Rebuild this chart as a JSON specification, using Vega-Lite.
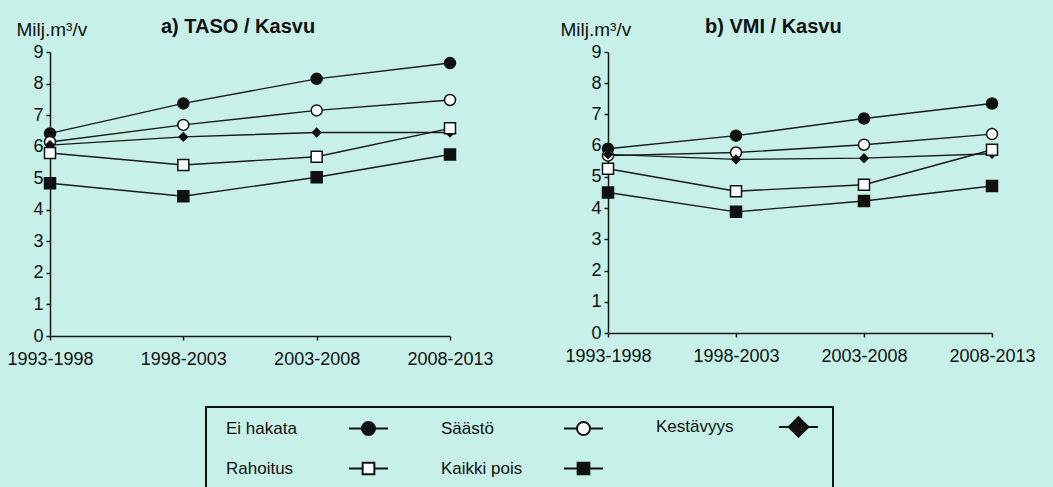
{
  "$schema": "https://vega.github.io/schema/vega-lite/v6.json",
  "background": "#c6f0e8",
  "padding": {"left": 6, "top": 17, "right": 20, "bottom": 2},
  "datasets": {
    "taso": [
      {"period": "1993-1998", "series": "Ei hakata", "value": 6.42},
      {"period": "1998-2003", "series": "Ei hakata", "value": 7.37},
      {"period": "2003-2008", "series": "Ei hakata", "value": 8.15},
      {"period": "2008-2013", "series": "Ei hakata", "value": 8.65},
      {"period": "1993-1998", "series": "Säästö", "value": 6.15},
      {"period": "1998-2003", "series": "Säästö", "value": 6.69},
      {"period": "2003-2008", "series": "Säästö", "value": 7.15},
      {"period": "2008-2013", "series": "Säästö", "value": 7.48},
      {"period": "1993-1998", "series": "Kestävyys", "value": 6.05},
      {"period": "1998-2003", "series": "Kestävyys", "value": 6.31},
      {"period": "2003-2008", "series": "Kestävyys", "value": 6.45},
      {"period": "2008-2013", "series": "Kestävyys", "value": 6.45},
      {"period": "1993-1998", "series": "Rahoitus", "value": 5.8},
      {"period": "1998-2003", "series": "Rahoitus", "value": 5.42},
      {"period": "2003-2008", "series": "Rahoitus", "value": 5.68},
      {"period": "2008-2013", "series": "Rahoitus", "value": 6.58},
      {"period": "1993-1998", "series": "Kaikki pois", "value": 4.84},
      {"period": "1998-2003", "series": "Kaikki pois", "value": 4.43},
      {"period": "2003-2008", "series": "Kaikki pois", "value": 5.03},
      {"period": "2008-2013", "series": "Kaikki pois", "value": 5.75}
    ],
    "vmi": [
      {"period": "1993-1998", "series": "Ei hakata", "value": 5.9},
      {"period": "1998-2003", "series": "Ei hakata", "value": 6.32},
      {"period": "2003-2008", "series": "Ei hakata", "value": 6.87},
      {"period": "2008-2013", "series": "Ei hakata", "value": 7.35},
      {"period": "1993-1998", "series": "Säästö", "value": 5.68},
      {"period": "1998-2003", "series": "Säästö", "value": 5.78},
      {"period": "2003-2008", "series": "Säästö", "value": 6.03},
      {"period": "2008-2013", "series": "Säästö", "value": 6.37},
      {"period": "1993-1998", "series": "Kestävyys", "value": 5.72},
      {"period": "1998-2003", "series": "Kestävyys", "value": 5.56},
      {"period": "2003-2008", "series": "Kestävyys", "value": 5.6},
      {"period": "2008-2013", "series": "Kestävyys", "value": 5.74},
      {"period": "1993-1998", "series": "Rahoitus", "value": 5.26},
      {"period": "1998-2003", "series": "Rahoitus", "value": 4.54},
      {"period": "2003-2008", "series": "Rahoitus", "value": 4.75},
      {"period": "2008-2013", "series": "Rahoitus", "value": 5.87},
      {"period": "1993-1998", "series": "Kaikki pois", "value": 4.5},
      {"period": "1998-2003", "series": "Kaikki pois", "value": 3.88},
      {"period": "2003-2008", "series": "Kaikki pois", "value": 4.23},
      {"period": "2008-2013", "series": "Kaikki pois", "value": 4.71}
    ]
  },
  "spacing": 66,
  "hconcat": [
    {
      "width": 400,
      "height": 284,
      "data": {"name": "taso"},
      "title": {"text": "a) TASO / Kasvu", "anchor": "start", "frame": "group", "dx": 111, "offset": -33, "baseline": "alphabetic", "fontSize": 20, "fontWeight": "bold", "font": "Liberation Sans", "color": "#111"},
      "encoding": {
        "x": {"field": "period", "type": "ordinal", "sort": ["1993-1998", "1998-2003", "2003-2008", "2008-2013"],
              "scale": {"type": "point", "padding": 0},
              "axis": {"title": null, "labelAngle": 0, "tickSize": 4, "labelPadding": 10, "encode": {"ticks": {"y": {"value": -4}}}}},
        "y": {"field": "value", "type": "quantitative", "scale": {"domain": [0, 9], "nice": false},
              "axis": {"title": "Milj.m³/v", "values": [0, 1, 2, 3, 4, 5, 6, 7, 8, 9], "titleAngle": 0, "titleAlign": "left", "titleBaseline": "alphabetic", "titleX": -34, "titleY": -17, "tickSize": 4, "labelPadding": 3, "encode": {"ticks": {"x": {"value": 4}}}}}
      },
      "layer": [
        {"mark": {"type": "line", "stroke": "#1a1a1a", "strokeWidth": 1.4}, "encoding": {"detail": {"field": "series", "type": "nominal"}}},
        {"mark": {"type": "point", "stroke": "#111", "strokeWidth": 1.5, "size": 121, "opacity": 1},
         "encoding": {
           "shape": {"condition": [
               {"test": "datum.series === 'Kestävyys'", "value": "M-0.75,0L0,-0.75L0.75,0L0,0.75Z"},
               {"test": "datum.series === 'Rahoitus' || datum.series === 'Kaikki pois'", "value": "square"}
             ], "value": "circle"},
           "fill": {"field": "series", "type": "nominal",
             "scale": {"domain": ["Ei hakata", "Säästö", "Kestävyys", "Rahoitus", "Kaikki pois"], "range": ["#111111", "#ffffff", "#111111", "#ffffff", "#111111"]},
             "legend": {"orient": "none", "legendX": 156, "legendY": 355, "columns": 3, "direction": "horizontal", "title": null,
               "symbolType": {"expr": "datum.value === 'Ei hakata' || datum.value === 'Säästö' ? 'M-3,0H-1M1,0H3M-1,0A1,1 0 1,0 1,0A1,1 0 1,0 -1,0Z' : datum.value === 'Kestävyys' ? 'M-3,0H-1.5M1.5,0H3M-1.5,0L0,-1.5L1.5,0L0,1.5Z' : 'M-3,0H-0.9M0.9,0H3M-0.9,-0.9H0.9V0.9H-0.9Z'"}}}
         }}
      ]
    },
    {
      "width": 384,
      "height": 281,
      "data": {"name": "vmi"},
      "title": {"text": "b) VMI / Kasvu", "anchor": "start", "frame": "group", "dx": 97, "offset": -33, "baseline": "alphabetic", "fontSize": 20, "fontWeight": "bold", "font": "Liberation Sans", "color": "#111"},
      "encoding": {
        "x": {"field": "period", "type": "ordinal", "sort": ["1993-1998", "1998-2003", "2003-2008", "2008-2013"],
              "scale": {"type": "point", "padding": 0},
              "axis": {"title": null, "labelAngle": 0, "tickSize": 4, "labelPadding": 10, "encode": {"ticks": {"y": {"value": -4}}}}},
        "y": {"field": "value", "type": "quantitative", "scale": {"domain": [0, 9], "nice": false},
              "axis": {"title": "Milj.m³/v", "values": [0, 1, 2, 3, 4, 5, 6, 7, 8, 9], "titleAngle": 0, "titleAlign": "left", "titleBaseline": "alphabetic", "titleX": -48, "titleY": -17, "tickSize": 4, "labelPadding": 3, "encode": {"ticks": {"x": {"value": 4}}}}}
      },
      "layer": [
        {"mark": {"type": "line", "stroke": "#1a1a1a", "strokeWidth": 1.4}, "encoding": {"detail": {"field": "series", "type": "nominal"}}},
        {"mark": {"type": "point", "stroke": "#111", "strokeWidth": 1.5, "size": 121, "opacity": 1},
         "encoding": {
           "shape": {"condition": [
               {"test": "datum.series === 'Kestävyys'", "value": "M-0.75,0L0,-0.75L0.75,0L0,0.75Z"},
               {"test": "datum.series === 'Rahoitus' || datum.series === 'Kaikki pois'", "value": "square"}
             ], "value": "circle"},
           "fill": {"field": "series", "type": "nominal",
             "scale": {"domain": ["Ei hakata", "Säästö", "Kestävyys", "Rahoitus", "Kaikki pois"], "range": ["#111111", "#ffffff", "#111111", "#ffffff", "#111111"]},
             "legend": {"orient": "none", "legendX": 156, "legendY": 355, "columns": 3, "direction": "horizontal", "title": null,
               "symbolType": {"expr": "datum.value === 'Ei hakata' || datum.value === 'Säästö' ? 'M-3,0H-1M1,0H3M-1,0A1,1 0 1,0 1,0A1,1 0 1,0 -1,0Z' : datum.value === 'Kestävyys' ? 'M-3,0H-1.5M1.5,0H3M-1.5,0L0,-1.5L1.5,0L0,1.5Z' : 'M-3,0H-0.9M0.9,0H3M-0.9,-0.9H0.9V0.9H-0.9Z'"}}}
         }}
      ]
    }
  ],
  "config": {
    "view": {"stroke": null},
    "font": "Liberation Sans",
    "axis": {"grid": false, "domainColor": "#1a1a1a", "domainWidth": 1.5, "tickColor": "#1a1a1a", "tickWidth": 1.5,
             "labelFont": "Liberation Sans", "labelFontSize": 18, "labelColor": "#111",
             "titleFont": "Liberation Sans", "titleFontSize": 19, "titleFontWeight": "normal", "titleColor": "#111"},
    "legend": {"labelFont": "Liberation Sans", "labelFontSize": 17, "labelColor": "#111", "symbolSize": 169,
               "symbolStrokeColor": "#111", "symbolStrokeWidth": 2, "symbolOpacity": 1,
               "labelOffset": -151, "symbolOffset": 143, "columnPadding": 40, "rowPadding": 17, "padding": 11,
               "strokeColor": "#111", "strokeWidth": 2}
  }
}
